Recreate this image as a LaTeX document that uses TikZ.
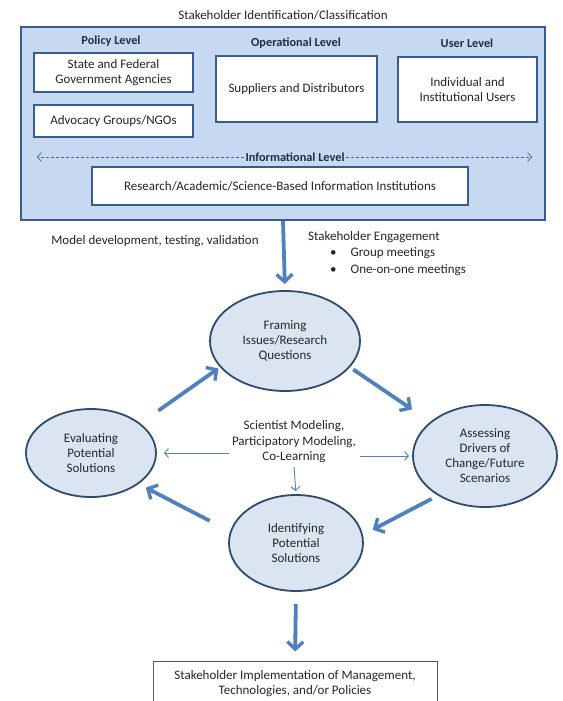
\documentclass[tikz,border=0pt]{standalone}
\usepackage{fontspec}
\setmainfont{Carlito}
\usetikzlibrary{arrows.meta,shapes.geometric,calc}
\definecolor{boxfill}{HTML}{C6D9F1}
\definecolor{boxline}{HTML}{385D8A}
\definecolor{ellfill}{HTML}{DBE5F1}
\definecolor{ellline}{HTML}{2F4B6E}
\definecolor{arrowblue}{HTML}{4F81BD}
\definecolor{labelnavy}{HTML}{1F2D45}
\tikzset{
  every node/.style={font=\fontsize{13}{15}\selectfont, text=black!85},
  lvl/.style={font=\bfseries\fontsize{12.3}{14}\selectfont, text=labelnavy},
  wbox/.style={draw=boxline, line width=2.2pt, fill=white, align=center, inner sep=0pt,
    font=\fontsize{13}{15}\selectfont},
  cyc/.style={ellipse, draw=ellline, line width=1.8pt, fill=ellfill, align=center, inner sep=0pt,
    font=\fontsize{13}{15}\selectfont},
  bigarrow/.style={draw=arrowblue, line width=3.8pt, -{Straight Barb[length=7.5pt,width=16pt,line width=3.4pt]}},
  thinarrow/.style={draw=arrowblue, line width=0.9pt, -{Straight Barb[length=4pt,width=9pt]}},
}
\begin{document}
\begin{tikzpicture}[x=1pt,y=-1pt]
\useasboundingbox (0,0) rectangle (562,701);
\fill[white] (0,0) rectangle (562,701);

% title
\node (title) at (283,15) {Stakeholder Identification/Classification};

% outer box
\node[draw=boxline, line width=1.8pt, fill=boxfill, minimum width=524pt, minimum height=193pt, inner sep=0pt]
  (outer) at (283,123.5) {};

\node[lvl] (pol) at (111,41) {Policy Level};
\node[lvl] (ope) at (296,43) {Operational Level};
\node[lvl] (use) at (467,43) {User Level};

\node[wbox, minimum width=159pt, minimum height=39pt] (state) at (113.5,72.5)
  {State and Federal\\Government Agencies};
\node[wbox, minimum width=159pt, minimum height=32pt] (adv) at (113.5,121)
  {Advocacy Groups/NGOs};
\node[wbox, minimum width=161pt, minimum height=66pt] (sup) at (296.5,89)
  {Suppliers and Distributors};
\node[wbox, minimum width=139pt, minimum height=65pt] (ind) at (467.5,89.5)
  {Individual and\\Institutional Users};

% informational level
\coordinate (infL) at (37,157);
\coordinate (infR) at (532,157);
\node[lvl, fill=boxfill, inner sep=1pt] (inf) at (295,157) {Informational Level};
\draw[arrowblue!80!black, densely dashed, line width=0.7pt, -{Straight Barb[length=4pt,width=9pt]}]
  (inf.west) -- (infL);
\draw[arrowblue!80!black, densely dashed, line width=0.7pt, -{Straight Barb[length=4pt,width=9pt]}]
  (inf.east) -- (infR);

\node[wbox, minimum width=376pt, minimum height=38pt] (res) at (280,186)
  {Research/Academic/Science-Based Information Institutions};

% side texts
\node (model) at (155,241) {Model development, testing, validation};
\node[anchor=north west, align=left, inner sep=0pt, font=\fontsize{13}{16.5}\selectfont] (eng) at (308,231)
  {Stakeholder Engagement\\
   \hspace*{22pt}\textbullet\hspace{14pt}Group meetings\\
   \hspace*{22pt}\textbullet\hspace{14pt}One-on-one meetings};

% cycle
\node[cyc, minimum width=150pt, minimum height=100pt] (frame) at (285,341)
  {Framing\\Issues/Research\\Questions};
\node[cyc, minimum width=144pt, minimum height=102pt] (assess) at (485,456)
  {Assessing\\Drivers of\\Change/Future\\Scenarios};
\node[cyc, minimum width=130pt, minimum height=88pt] (eval) at (91,453)
  {Evaluating\\Potential\\Solutions};
\node[cyc, minimum width=134pt, minimum height=96pt] (ident) at (296,543)
  {Identifying\\Potential\\Solutions};

\node[align=center, font=\fontsize{13}{15.5}\selectfont] (sci) at (294,442)
  {Scientist Modeling,\\Participatory Modeling,\\Co-Learning};

% bottom box
\node[draw=black!65, line width=1pt, fill=white, minimum width=284pt, minimum height=46pt,
  align=center, inner sep=0pt, font=\fontsize{13}{15}\selectfont] (impl) at (295,684)
  {Stakeholder Implementation of Management,\\Technologies, and/or Policies};

% thick arrows
\draw[bigarrow, shorten >=6pt] (outer.south) -- (frame.north);
\draw[bigarrow, shorten <=4pt, shorten >=22pt] (frame.-22) -- (assess.148);
\draw[bigarrow, shorten <=7pt, shorten >=11pt] (assess.220) -- (ident.7);
\draw[bigarrow, shorten <=23pt, shorten >=8pt] (ident.170) -- (eval.-33);
\draw[bigarrow, shorten <=22pt, shorten >=2pt] (eval.31) -- (frame.202);
\draw[bigarrow, shorten <=12pt, shorten >=9pt] (ident.south) -- (impl.north);

% thin arrows
\draw[thinarrow, shorten >=7pt] (sci.west |- eval.east) -- (eval.east);
\draw[thinarrow, shorten >=3pt] (sci.east |- assess.west) -- (assess.west);
\draw[thinarrow, shorten >=3pt] (sci.south) -- (ident.north);
\end{tikzpicture}
\end{document}
